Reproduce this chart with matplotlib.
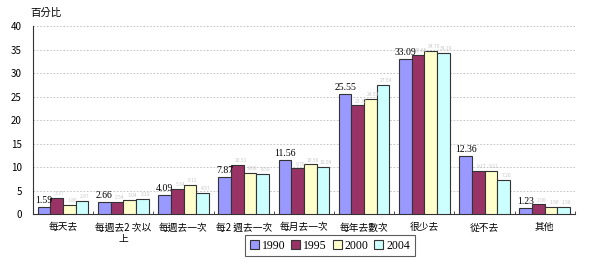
import matplotlib
matplotlib.use('Agg')
import matplotlib.pyplot as plt
import numpy as np

plt.rcParams['font.family'] = ['Noto Sans CJK TC', 'DejaVu Sans']

# categories and series values (percent)
categories = ['每天去', '每週去2 次以\n上', '每週去一次', '每2 週去一次', '每月去一次',
              '每年去數次', '很少去', '從不去', '其他']
years = ['1990', '1995', '2000', '2004']
v1990 = [1.59, 2.66, 4.09, 7.87, 11.56, 25.55, 33.09, 12.36, 1.23]
v1995 = [3.37, 2.54, 5.34, 10.51, 9.70, 23.12, 33.85, 9.17, 2.06]
v2000 = [1.86, 3.04, 6.12, 8.68, 10.56, 24.53, 34.70, 9.21, 1.58]
v2004 = [2.87, 3.19, 4.57, 8.50, 10.09, 27.54, 34.29, 7.20, 1.58]
colors = ['#9999FF', '#993366', '#FFFFCC', '#CCFFFF']

series = [v1990, v1995, v2000, v2004]

fig = plt.figure(figsize=(6, 2.63), dpi=100)
ax = fig.add_axes([0.055, 0.186, 0.903, 0.715])

x = np.arange(len(categories))
w = 0.21
for i, vals in enumerate(series):
    pos = x + (i - 1.5) * w
    ax.bar(pos, vals, width=w, color=colors[i], edgecolor='#333333',
           linewidth=0.8, label=years[i], zorder=3)
    for p, v in zip(pos, vals):
        if i == 0:
            ax.text(p, v + 0.4, f'{v:.2f}', ha='center', va='bottom',
                    fontsize=7, family='Liberation Serif', zorder=4)
        else:
            ax.text(p + 0.05, v + 0.4, f'{v:.2f}', ha='center', va='bottom',
                    fontsize=3.5, color='#c8c8c8', zorder=4)

ax.set_xlim(-0.5, len(categories) - 0.5)
ax.set_ylim(0, 40)
ax.set_yticks(range(0, 41, 5))
ax.yaxis.grid(True, linestyle=(0, (2, 2)), color='#bbbbbb', linewidth=0.6, zorder=0)
ax.set_axisbelow(True)

ax.set_xticks(x)
ax.set_xticklabels(categories, fontsize=7)
ax.set_xticks(np.arange(-0.5, len(categories), 1), minor=True)
ax.tick_params(axis='x', which='major', length=0, pad=6)
ax.tick_params(axis='x', which='minor', length=2.5, direction='in', color='#333333')
ax.tick_params(axis='y', labelsize=7, length=0, pad=8)

for s in ['top', 'right']:
    ax.spines[s].set_visible(False)
ax.spines['left'].set_color('#333333')
ax.spines['bottom'].set_color('#333333')

fig.text(0.05, 0.952, '百分比', fontsize=7.5, ha='left', va='center')

leg = fig.legend(loc='center', bbox_to_anchor=(0.55, 0.0665), ncol=4,
                 bbox_transform=fig.transFigure,
                 frameon=True, fancybox=False, edgecolor='#333333',
                 prop={'family': 'Liberation Serif', 'size': 8.5},
                 handlelength=0.75, handleheight=0.75, handletextpad=0.25,
                 columnspacing=0.5, borderpad=0.4)
leg.get_frame().set_linewidth(0.8)

fig.savefig('out.png', dpi=100, facecolor='white')
